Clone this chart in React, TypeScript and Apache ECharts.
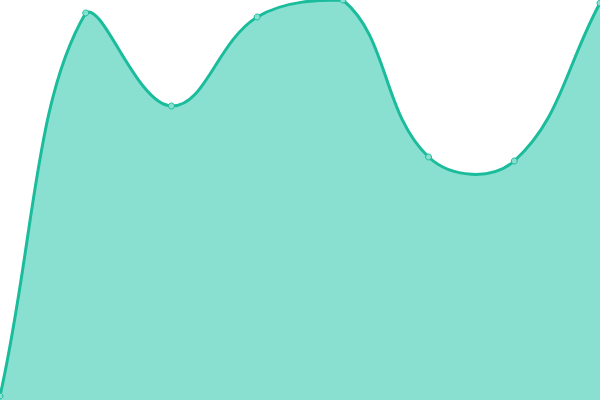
import React, { useEffect, useRef } from 'react';
import * as echarts from 'echarts';

// values (height from the bottom of a 400px plot)
const categories = ['1', '2', '3', '4', '5', '6', '7', '8'];
const values = [4, 387, 294, 383, 400, 243, 239, 397];

const LINE = '#1abc9c';
const FILL = '#8ae0d0';
const TENSION = 0.4;

type Pt = [number, number];

// spline through the points, tension-based control points (no monotone clamping)
const buildPath = (pts: Pt[], top: number, bottom: number) => {
  const clampY = (y: number) => Math.max(top, Math.min(bottom, y));
  let d = `M ${pts[0][0]} ${pts[0][1]}`;
  const cps = pts.map((p, i) => {
    const prev = pts[i - 1] || p;
    const next = pts[i + 1] || p;
    const d01 = Math.hypot(p[0] - prev[0], p[1] - prev[1]);
    const d12 = Math.hypot(next[0] - p[0], next[1] - p[1]);
    const sum = d01 + d12 || 1;
    const fa = (TENSION * d01) / sum;
    const fb = (TENSION * d12) / sum;
    return {
      prev: [p[0] - fa * (next[0] - prev[0]), clampY(p[1] - fa * (next[1] - prev[1]))],
      next: [p[0] + fb * (next[0] - prev[0]), clampY(p[1] + fb * (next[1] - prev[1]))],
    };
  });
  for (let i = 1; i < pts.length; i++) {
    const c1 = cps[i - 1].next;
    const c2 = cps[i].prev;
    d += ` C ${c1[0]} ${c1[1]} ${c2[0]} ${c2[1]} ${pts[i][0]} ${pts[i][1]}`;
  }
  return d;
};

const App: React.FC = () => {
  const chartRef = useRef<HTMLDivElement>(null);

  useEffect(() => {
    if (!chartRef.current) return;
    const chart = echarts.init(chartRef.current, undefined, { renderer: 'svg' });

    const option: echarts.EChartsOption = {
      animation: false,
      grid: { left: 0, right: 0, top: 0, bottom: 0 },
      xAxis: {
        type: 'category',
        data: categories,
        boundaryGap: false,
        show: false,
      },
      yAxis: {
        type: 'value',
        min: 0,
        max: 400,
        show: false,
      },
      series: [
        {
          type: 'custom',
          clip: true,
          encode: { x: 0, y: 1 },
          data: values.map((v, i) => [i, v]),
          renderItem: (params: any, api: any) => {
            const idx = params.dataIndex;
            const pts: Pt[] = values.map((v, i) => api.coord([i, v]));
            const bottom = api.coord([0, 0])[1];
            const top = api.coord([0, 400])[1];
            const children: any[] = [];
            if (idx === 0) {
              const line = buildPath(pts, top, bottom);
              const last = pts[pts.length - 1];
              children.push({
                type: 'path',
                shape: { pathData: `${line} L ${last[0]} ${bottom} L ${pts[0][0]} ${bottom} Z` },
                style: { fill: FILL, stroke: 'none' },
              });
              children.push({
                type: 'path',
                shape: { pathData: line },
                style: { fill: 'none', stroke: LINE, lineWidth: 3 },
              });
            }
            children.push({
              type: 'circle',
              shape: { cx: pts[idx][0], cy: pts[idx][1], r: 3 },
              style: { fill: FILL, stroke: LINE, lineWidth: 1 },
            });
            return { type: 'group', children };
          },
        },
      ],
    };

    chart.setOption(option);

    return () => {
      chart.dispose();
    };
  }, []);

  return (
    <div
      ref={chartRef}
      style={{ position: 'fixed', left: 0, top: 0, width: '600px', height: '400px' }}
    />
  );
};

export default App;
